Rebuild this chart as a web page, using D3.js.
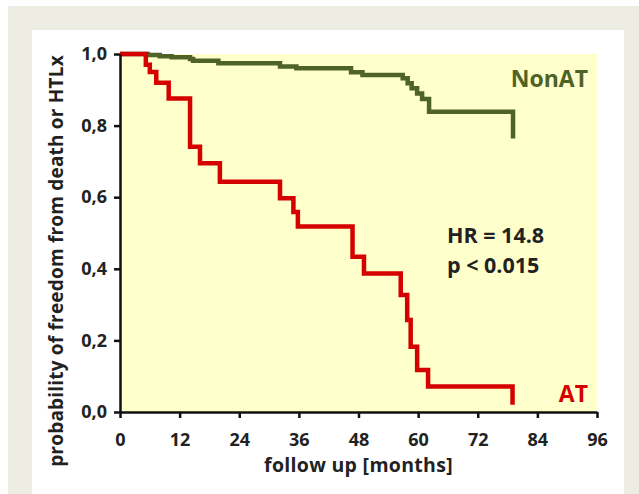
<!DOCTYPE html>
<html>
<head>
<meta charset="utf-8">
<script src="https://cdn.jsdelivr.net/npm/d3@7"></script>
<style>
  body { margin: 0; background: #fff; }
  svg { display: block; }
  text { font-family: "Open Sans", sans-serif; font-weight: 700; fill: #222; }
</style>
</head>
<body>
<svg id="chart"></svg>
<script>
// Kaplan-Meier steps
const atMonths = [0, 5.2, 6.0, 7.3, 9.8, 14.1, 16.1, 20.1, 32.2, 34.9, 35.8, 46.8, 49.1, 56.5, 57.8, 58.5, 59.8, 62.0, 79.0];
const atSurv   = [1.0, 0.97, 0.95, 0.92, 0.876, 0.741, 0.695, 0.643, 0.597, 0.559, 0.518, 0.434, 0.387, 0.327, 0.257, 0.182, 0.117, 0.071, 0.02];

const nonAtMonths = [0, 5.6, 8.0, 10.4, 14.1, 14.7, 19.8, 32.2, 35.5, 46.5, 48.8, 56.9, 57.9, 58.7, 59.8, 60.8, 62.2, 79.1];
const nonAtSurv   = [1.0, 0.997, 0.994, 0.991, 0.986, 0.981, 0.974, 0.965, 0.960, 0.949, 0.941, 0.932, 0.918, 0.904, 0.890, 0.874, 0.839, 0.764];

const xTicks = [0, 12, 24, 36, 48, 60, 72, 84, 96];
const yTicks = [0, 0.2, 0.4, 0.6, 0.8, 1.0];

const width = 639, height = 494;
const margin = { top: 54, right: 42, bottom: 82, left: 120 };

const svg = d3.select('#chart')
  .attr('width', width)
  .attr('height', height);

// page frame
svg.append('rect').attr('x', 8).attr('y', 6).attr('width', width - 8).attr('height', height - 6).attr('fill', '#eeede4');
svg.append('rect').attr('x', 32).attr('y', 30).attr('width', 592).attr('height', height - 30).attr('fill', '#fff');

const x = d3.scaleLinear().domain([0, 96]).range([margin.left, width - margin.right]);
const y = d3.scaleLinear().domain([0, 1]).range([height - margin.bottom, margin.top]);

// plot area
svg.append('rect')
  .attr('x', x(0)).attr('y', y(1))
  .attr('width', x(96) - x(0)).attr('height', y(0) - y(1))
  .attr('fill', '#ffffcc');

const line = d3.line()
  .x(d => x(d[0]))
  .y(d => y(d[1]))
  .curve(d3.curveStepAfter);

svg.append('path')
  .datum(d3.zip(nonAtMonths, nonAtSurv))
  .attr('d', line)
  .attr('fill', 'none')
  .attr('stroke', '#4f6228')
  .attr('stroke-width', 4.5);

svg.append('path')
  .datum(d3.zip(atMonths, atSurv))
  .attr('d', line)
  .attr('fill', 'none')
  .attr('stroke', '#d50000')
  .attr('stroke-width', 4.5);

// axes
const xAxis = d3.axisBottom(x).tickValues(xTicks).tickSizeInner(6).tickSizeOuter(0).tickPadding(15);
const yAxis = d3.axisLeft(y).tickValues(yTicks).tickSizeInner(6).tickSizeOuter(0).tickPadding(7)
  .tickFormat(d => d3.format('.1f')(d).replace('.', ','));

const xAxisG = svg.append('g')
  .attr('transform', `translate(0,${y(0)})`)
  .call(xAxis);
const yAxisG = svg.append('g')
  .attr('transform', `translate(${x(0)},0)`)
  .call(yAxis);

[xAxisG, yAxisG].forEach(g => {
  g.select('.domain').attr('stroke', '#111').attr('stroke-width', 2.5);
  g.selectAll('.tick line').attr('stroke', '#111').attr('stroke-width', 2.5);
  g.selectAll('.tick text')
    .attr('fill', '#222')
    .style('font-family', '"Open Sans", sans-serif')
    .style('font-weight', 700)
    .style('font-size', '18px');
});

// axis titles
svg.append('text')
  .attr('x', (x(0) + x(96)) / 2)
  .attr('y', 472)
  .attr('text-anchor', 'middle')
  .style('font-size', '19.5px')
  .style('letter-spacing', '0.3px')
  .text('follow up [months]');

svg.append('text')
  .attr('transform', `translate(63,${(y(0) + y(1)) / 2 + 28}) rotate(-90)`)
  .attr('text-anchor', 'middle')
  .style('font-size', '19px')
  .style('letter-spacing', '0.2px')
  .text('probability of freedom from death or HTLx');

// annotations
svg.append('text')
  .attr('x', 588).attr('y', 87)
  .attr('text-anchor', 'end')
  .style('font-size', '23px')
  .style('fill', '#4f6228')
  .text('NonAT');

svg.append('text')
  .attr('x', 588).attr('y', 402)
  .attr('text-anchor', 'end')
  .style('font-size', '23px')
  .style('fill', '#d50000')
  .text('AT');

svg.append('text')
  .attr('x', 447).attr('y', 243)
  .style('font-size', '21.5px')
  .text('HR = 14.8');

svg.append('text')
  .attr('x', 447).attr('y', 273)
  .style('font-size', '21.5px')
  .text('p < 0.015');
</script>
</body>
</html>
